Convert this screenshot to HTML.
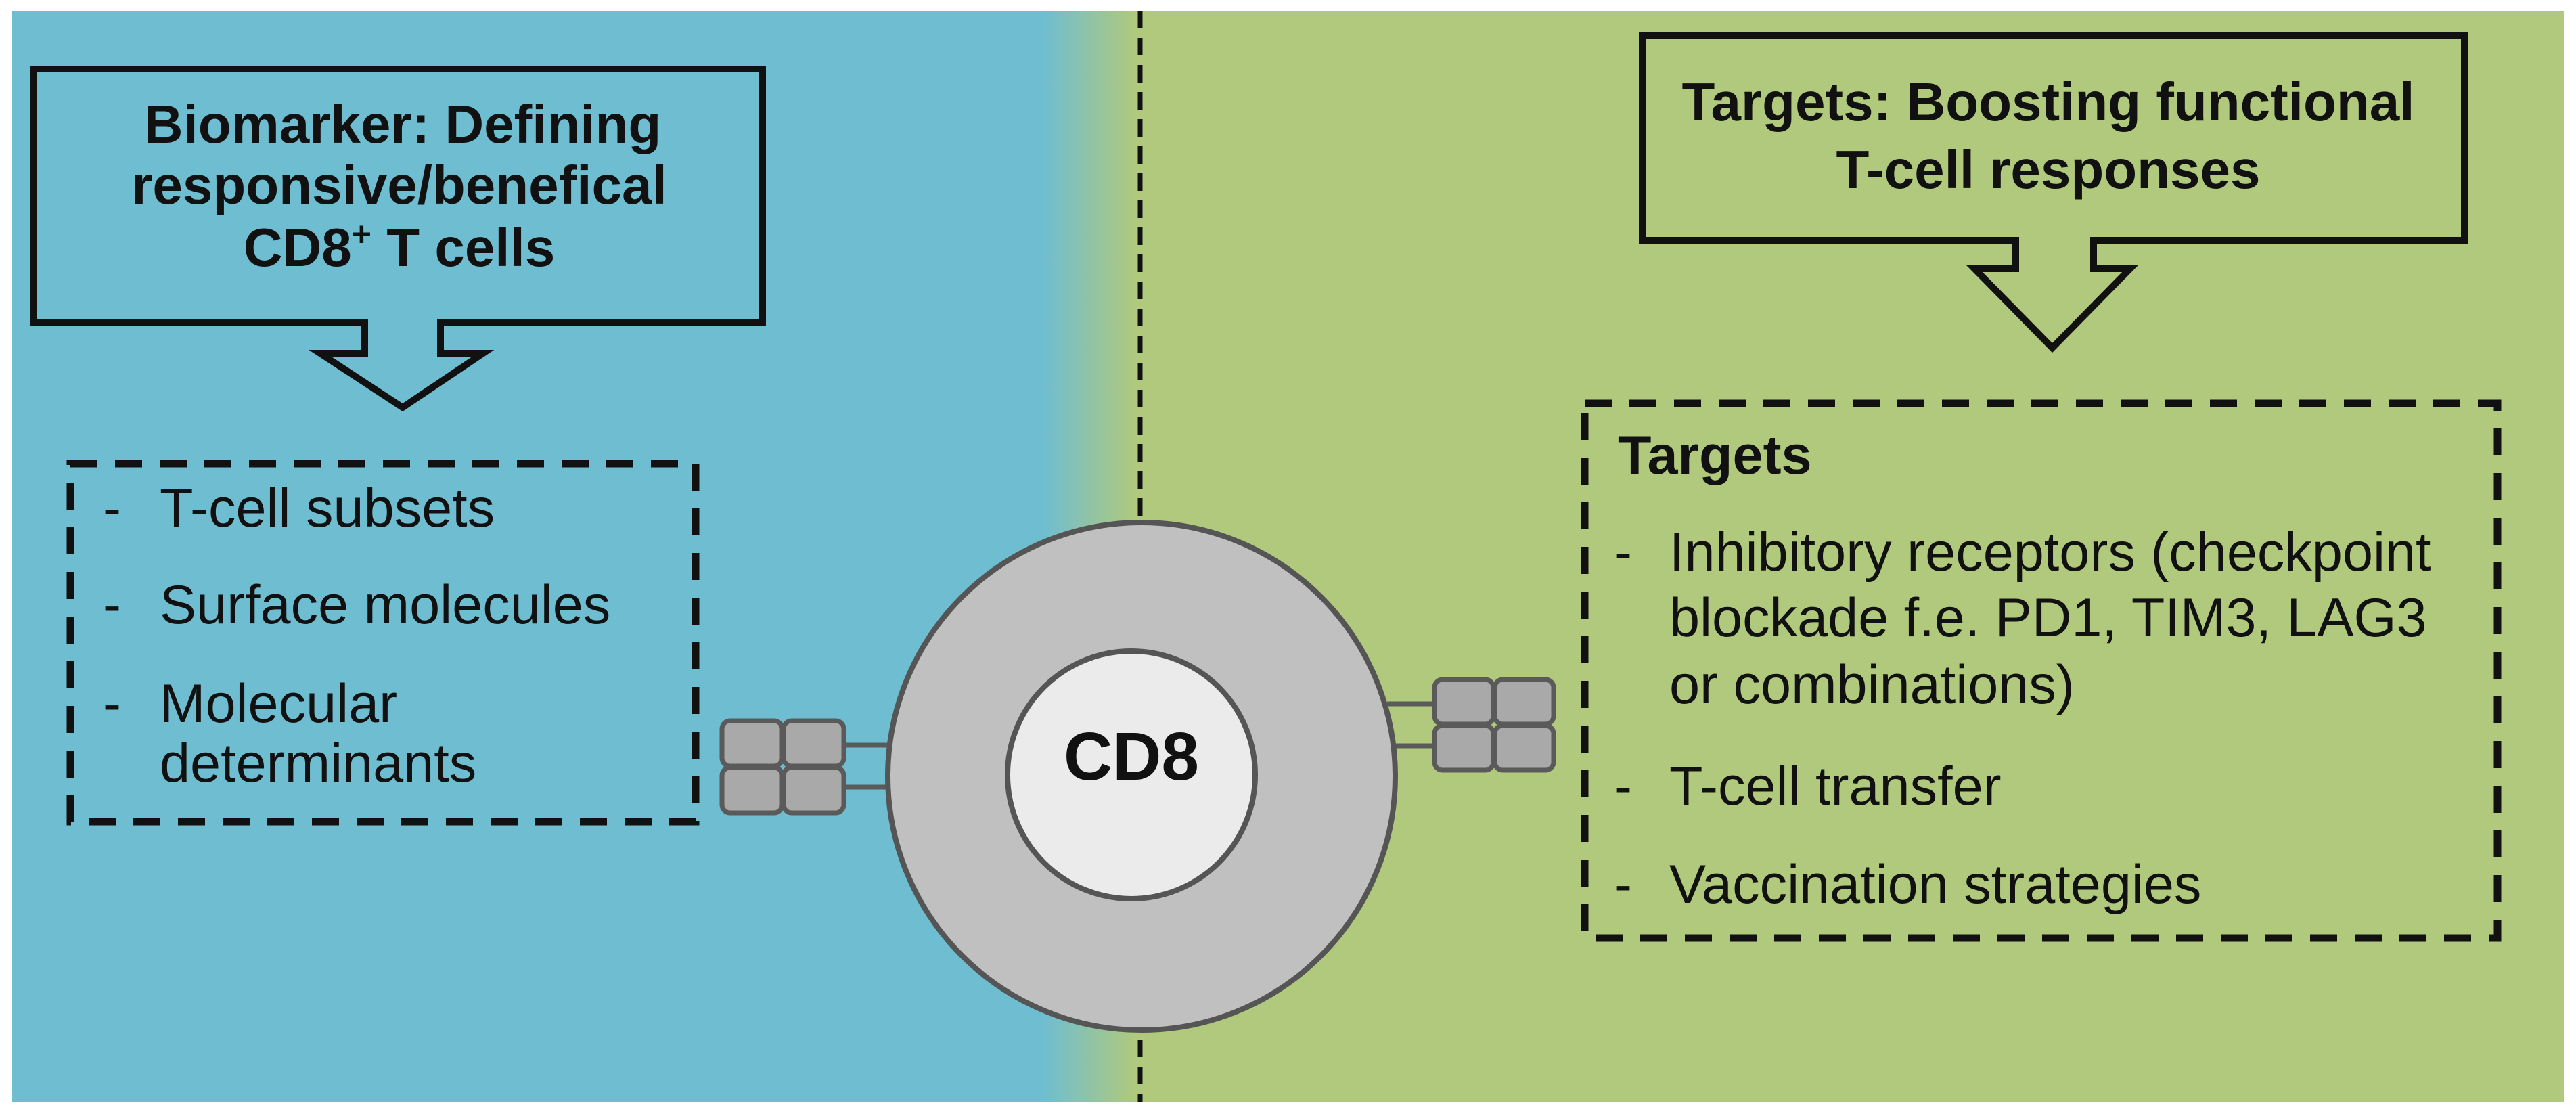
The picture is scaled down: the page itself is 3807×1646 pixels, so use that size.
<!DOCTYPE html>
<html><head><meta charset="utf-8"><style>
html,body{margin:0;padding:0;background:#fff;}
svg{display:block;}
text{font-family:"Liberation Sans",Arial,sans-serif;fill:#111;}
</style></head><body>
<svg width="3807" height="1646" viewBox="0 0 3807 1646" xmlns="http://www.w3.org/2000/svg">
<defs>
<linearGradient id="bg" x1="0" y1="0" x2="3807" y2="0" gradientUnits="userSpaceOnUse">
<stop offset="0" stop-color="#6fbdd1"/>
<stop offset="0.405" stop-color="#6fbdd1"/>
<stop offset="0.441" stop-color="#b0c97c"/>
<stop offset="1" stop-color="#b0c97c"/>
</linearGradient>
</defs>
<rect x="17" y="16" width="3773" height="1612" fill="url(#bg)"/>
<line x1="1685" y1="16" x2="1685" y2="1628" stroke="#111" stroke-width="7" stroke-dasharray="26,14"/>

<!-- Left callout -->
<path d="M49,102 H1127 V476 H651 V522 H714 L595,602 L473,522 H539 V476 H49 Z" fill="none" stroke="#111" stroke-width="10" stroke-linejoin="miter"/>
<text x="595" y="211" font-size="80" font-weight="bold" text-anchor="middle">Biomarker: Defining</text>
<text x="590" y="301" font-size="80" font-weight="bold" text-anchor="middle">responsive/benefical</text>
<text x="590" y="393" font-size="80" font-weight="bold" text-anchor="middle">CD8<tspan font-size="50" dy="-30">+</tspan><tspan dy="30"> T cells</tspan></text>

<!-- Left dashed box -->
<rect x="104" y="685" width="924" height="529" fill="none" stroke="#111" stroke-width="11" stroke-dasharray="40,26"/>
<g font-size="81">
<text x="152" y="778">-</text><text x="236" y="778">T-cell subsets</text>
<text x="152" y="921">-</text><text x="236" y="921">Surface molecules</text>
<text x="152" y="1067">-</text><text x="236" y="1067">Molecular</text>
<text x="236" y="1155">determinants</text>
</g>

<!-- Receptors -->
<g stroke="#5a5a5a" stroke-width="7">
<line x1="1248" y1="1101" x2="1320" y2="1101"/>
<line x1="1248" y1="1163" x2="1320" y2="1163"/>
<line x1="2050" y1="1040" x2="2118" y2="1040"/>
<line x1="2050" y1="1102" x2="2118" y2="1102"/>
</g>
<g fill="#a9a9a9" stroke="#5a5a5a" stroke-width="7">
<rect x="1067" y="1065" width="89" height="67" rx="12"/>
<rect x="1158" y="1065" width="89" height="67" rx="12"/>
<rect x="1067" y="1134" width="89" height="67" rx="12"/>
<rect x="1158" y="1134" width="89" height="67" rx="12"/>
<rect x="2120" y="1004" width="87" height="66" rx="12"/>
<rect x="2209" y="1004" width="87" height="66" rx="12"/>
<rect x="2120" y="1072" width="87" height="66" rx="12"/>
<rect x="2209" y="1072" width="87" height="66" rx="12"/>
</g>

<!-- Cell -->
<circle cx="1687" cy="1147" r="375" fill="#c0c0c0" stroke="#555" stroke-width="8"/>
<circle cx="1672" cy="1145" r="183" fill="#ebebeb" stroke="#555" stroke-width="8"/>
<text x="1672" y="1152" font-size="100" font-weight="bold" text-anchor="middle">CD8</text>

<!-- Right callout -->
<path d="M2427,52 H3642 V355 H3094 V397 H3148 L3033,514 L2918,397 H2979 V355 H2427 Z" fill="none" stroke="#111" stroke-width="10"/>
<text x="3027" y="178" font-size="80" font-weight="bold" text-anchor="middle">Targets: Boosting functional</text>
<text x="3027" y="278" font-size="80" font-weight="bold" text-anchor="middle">T-cell responses</text>

<!-- Right dashed box -->
<rect x="2342" y="596" width="1349" height="790" fill="none" stroke="#111" stroke-width="11" stroke-dasharray="40,26"/>
<g font-size="81">
<text x="2391" y="700" font-weight="bold">Targets</text>
<text x="2385" y="843">-</text><text x="2467" y="843">Inhibitory receptors (checkpoint</text>
<text x="2467" y="940">blockade f.e. PD1, TIM3, LAG3</text>
<text x="2467" y="1039">or combinations)</text>
<text x="2385" y="1189">-</text><text x="2467" y="1189">T-cell transfer</text>
<text x="2385" y="1334">-</text><text x="2467" y="1334">Vaccination strategies</text>
</g>
</svg>
</body></html>
